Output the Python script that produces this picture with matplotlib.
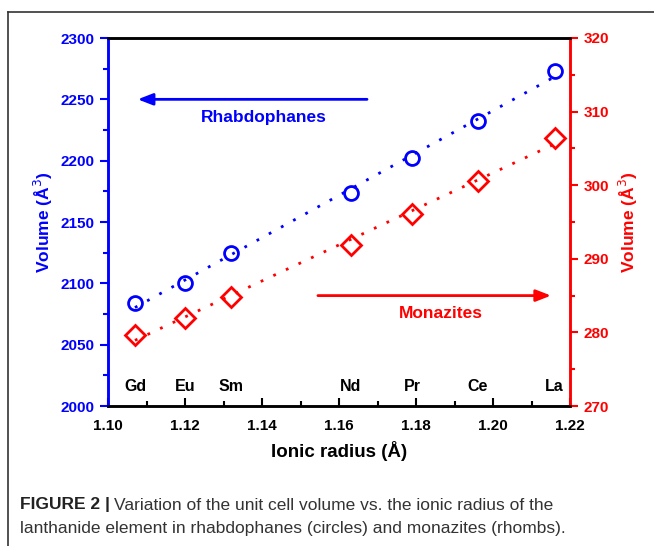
import numpy as np
import matplotlib
matplotlib.use("Agg")
import matplotlib.pyplot as plt
from matplotlib.lines import Line2D

# -----------------------------
# Data
# -----------------------------
elements = ["Gd", "Eu", "Sm", "Nd", "Pr", "Ce", "La"]
ionic_radius = [1.107, 1.120, 1.132, 1.163, 1.179, 1.196, 1.216]
vol_rhabdophane = [2084, 2100, 2125, 2174, 2202, 2232, 2273]
vol_monazite = [279.7, 282.0, 284.8, 291.9, 296.1, 300.6, 306.4]

BLUE = "#0000ff"
RED = "#ff0000"

plt.rcParams['font.family'] = ['Liberation Sans', 'DejaVu Sans']

fig = plt.figure(figsize=(6.54, 5.46), dpi=100)
ax = fig.add_axes([108 / 654, 140 / 546, 462 / 654, 368 / 546])
ax2 = ax.twinx()

# fit lines
x_fit = np.array([ionic_radius[0], ionic_radius[-1]])
p1 = np.polyfit(ionic_radius, vol_rhabdophane, 1)
p2 = np.polyfit(ionic_radius, vol_monazite, 1)
ax.plot(x_fit, np.polyval(p1, x_fit), color=BLUE, ls=(0, (1, 4)), lw=2)
ax2.plot(x_fit, np.polyval(p2, x_fit), color=RED, ls=(0, (1, 4)), lw=2)

ax.plot(ionic_radius, vol_rhabdophane, 'o', mfc='none', mec=BLUE, mew=2, ms=10)
ax2.plot(ionic_radius, vol_monazite, 'D', mfc='none', mec=RED, mew=2, ms=10.5)

# axes limits / ticks
ax.set_xlim(1.10, 1.22)
ax.set_ylim(2000, 2300)
ax2.set_ylim(270, 320)
ax.set_xticks(np.arange(1.10, 1.221, 0.02))
ax.set_xticks(np.arange(1.11, 1.22, 0.02), minor=True)
ax.set_xticklabels([f"{v:.2f}" for v in np.arange(1.10, 1.221, 0.02)])
ax.set_yticks(np.arange(2000, 2301, 50))
ax.set_yticks(np.arange(2025, 2300, 50), minor=True)
ax2.set_yticks(np.arange(270, 321, 10))
ax2.set_yticks(np.arange(275, 320, 10), minor=True)

ax.tick_params(axis='x', which='both', direction='in', color='black', width=1.5,
               labelsize=11, pad=9)
ax.tick_params(axis='x', which='major', length=6)
ax.tick_params(axis='x', which='minor', length=3.5)
ax.tick_params(axis='y', which='both', direction='out', color=BLUE, labelcolor=BLUE,
               width=1.5, labelsize=11)
ax.tick_params(axis='y', which='major', length=6)
ax.tick_params(axis='y', which='minor', length=3.5)
ax2.tick_params(axis='y', which='both', direction='out', color=RED, labelcolor=RED,
                width=1.5, labelsize=11)
ax2.tick_params(axis='y', which='major', length=6)
ax2.tick_params(axis='y', which='minor', length=3.5)
for lab in ax.get_xticklabels() + ax.get_yticklabels() + ax2.get_yticklabels():
    lab.set_fontweight('bold')

for a in (ax, ax2):
    a.spines['top'].set_color('black')
    a.spines['bottom'].set_color('black')
    a.spines['left'].set_color(BLUE)
    a.spines['right'].set_color(RED)
    for s in a.spines.values():
        s.set_linewidth(1.8)

ax.set_xlabel("Ionic radius (Å)", fontsize=13.5, fontweight='bold', labelpad=6)
ax.set_ylabel("Volume (Å$^3$)", fontsize=12.5, fontweight='bold', color=BLUE, labelpad=4)
ax2.set_ylabel("Volume (Å$^3$)", fontsize=12.5, fontweight='bold', color=RED,
               rotation=90, labelpad=6)

# element labels
for x, el in zip(ionic_radius, elements):
    ax.text(x, 2015.5, el, ha='center', va='center', fontsize=11.5, fontweight='bold')

# arrows and series names
ax.annotate("", xy=(1.107, 2250), xytext=(1.168, 2250),
            arrowprops=dict(arrowstyle='-|>,head_length=0.9,head_width=0.35',
                            color=BLUE, lw=2))
ax.text(1.1405, 2235, "Rhabdophanes", ha='center', va='center', color=BLUE,
        fontsize=12.5, fontweight='bold')
ax2.annotate("", xy=(1.2158, 285), xytext=(1.1538, 285),
             arrowprops=dict(arrowstyle='-|>,head_length=0.9,head_width=0.35',
                             color=RED, lw=2))
ax2.text(1.1865, 282.6, "Monazites", ha='center', va='center', color=RED,
         fontsize=12.5, fontweight='bold')

# frame around the figure
fig.add_artist(Line2D([8 / 654, 8 / 654], [0, 1 - 12 / 546], color='#333333', lw=1.2))
fig.add_artist(Line2D([8 / 654, 1], [1 - 12 / 546, 1 - 12 / 546], color='#333333', lw=1.2))

# caption
cap_font = ['Liberation Sans Narrow', 'Liberation Sans', 'DejaVu Sans']
t1 = fig.text(20 / 654, 1 - 505 / 546, "FIGURE 2 |", fontsize=12.5, fontweight='bold',
              family=cap_font, color='#222222', va='center')
fig.canvas.draw()
bb = t1.get_window_extent()
fig.text(bb.x1 / 654 + 4 / 654, 1 - 505 / 546,
         "Variation of the unit cell volume vs. the ionic radius of the",
         fontsize=12.5, family=cap_font, color='#333333', va='center')
fig.text(20 / 654, 1 - 528 / 546,
         "lanthanide element in rhabdophanes (circles) and monazites (rhombs).",
         fontsize=12.5, family=cap_font, color='#333333', va='center')

fig.savefig("out.png", dpi=100)
